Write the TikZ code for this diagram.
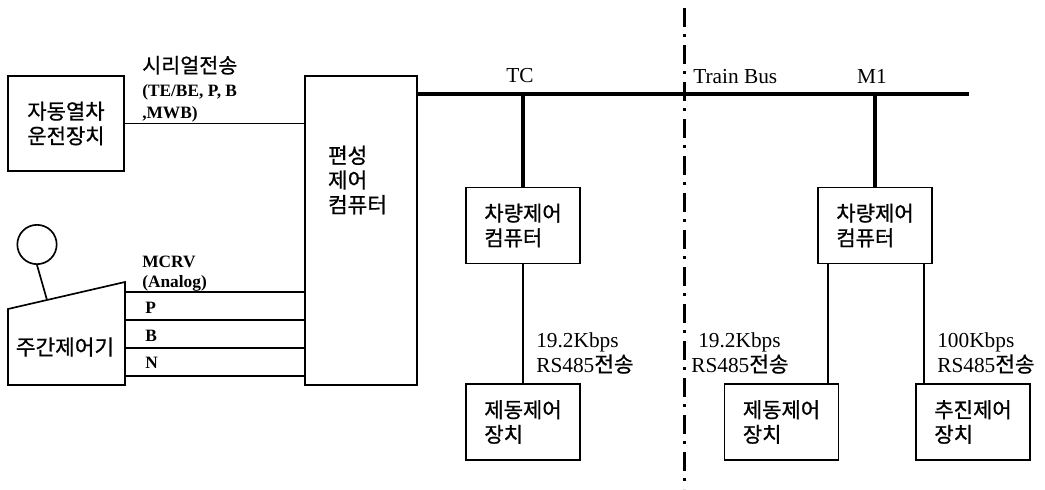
\documentclass[tikz,border=0pt]{standalone}
\usepackage{fontspec}
\setmainfont{Liberation Serif}
\newfontfamily\krfont[FakeBold=0.8]{Noto Sans CJK KR}
\begin{document}
\begin{tikzpicture}[x=0.75pt,y=-0.75pt,
  unitbox/.style={draw, line width=1.3pt, rectangle, inner sep=0pt, align=left,
    font=\krfont\fontsize{15.75}{18.5}\selectfont},
  smallbox/.style={unitbox, minimum width=85.5pt, minimum height=57pt},
  krtext/.style={inner sep=0pt, align=left, font=\krfont\fontsize{16}{18.5}\selectfont},
  lab/.style={inner sep=0pt, anchor=base west, font=\fontsize{16}{18}\selectfont},
  clab/.style={lab, anchor=base},
  blab/.style={inner sep=0pt, anchor=base west, font=\bfseries\fontsize{13}{15}\selectfont},
  thin/.style={line width=1.25pt},
  thick/.style={line width=3pt},
  divider/.style={line width=2.25pt, dash pattern=on 14.25pt off 5.25pt on 2.25pt off 6pt}]
\useasboundingbox (0,0) rectangle (1045,489);

% ---- left side: ATO unit, master controller and train control computer
\node[unitbox, minimum width=87pt, minimum height=71.25pt] (ato) at (66,123.5) {자동열차\\운전장치};
\node[unitbox, minimum width=84pt, minimum height=231.75pt] (tcms) at (361,230.5) {};
\node[krtext] (tcmstxt) at (357.5,180) {편성\\제어\\컴퓨터};

\draw[thin] (ato.east) -- (ato.east -| tcms.west);
\node[krtext, anchor=base west, font=\krfont\fontsize{15.5}{18}\selectfont] (serial) at (142,73) {시리얼전송};
\node[blab] (sig1) at (142,96) {(TE/BE, P, B};
\node[blab] (sig2) at (142,118) {,MWB)};

% master controller body, knob and handle
\coordinate (c1) at (8,385);
\coordinate (c2) at (8,309);
\coordinate (c3) at (125,282);
\coordinate (c4) at (125,385);
\draw[thin] (c1) -- (c2) -- (c3) -- (c4) -- cycle;
\node[draw, thin, circle, minimum size=29.5pt, inner sep=0pt] (knob) at (37,244.5) {};
\coordinate (handle) at (47,300);
\draw[thin] (knob.south) -- (handle);
\node[krtext] (mc) at (65,347) {주간제어기};

% controller lines
\foreach \yy/\nm in {292/la,320/lb,348/lc,376/ld}{
  \coordinate (\nm) at (125,\yy);
  \draw[thin] (\nm) -- (\nm -| tcms.west);
}
\node[blab] (mcrv) at (142,267) {MCRV};
\node[blab] (analog) at (142,287) {(Analog)};
\node[blab] (lp) at (145,313) {P};
\node[blab] (lbb) at (145,341) {B};
\node[blab] (ln) at (145,368) {N};

% ---- train bus
\coordinate (busL) at (417,94);
\coordinate (busR) at (969,94);
\draw[thick] (busL) -- (busR);
\node[clab] (tc) at (520,82) {TC};
\node[lab] (tbus) at (693,83) {Train Bus};
\node[clab] (m1) at (872,83) {M1};

% ---- TC car
\node[smallbox] (vcc1) at (523,225.5) {차량제어\\컴퓨터};
\node[smallbox] (bcu1) at (523,422) {제동제어\\장치};
\draw[thick] (vcc1.north) -- (vcc1.north |- busL);
\draw[thin] (vcc1.south) -- (bcu1.north);
\node[lab] (r1a) at (536,347) {19.2Kbps};
\node[lab] (r1b) at (536,372) {RS485{\krfont 전송}};

% ---- M1 car
\node[smallbox] (vcc2) at (875,225.5) {차량제어\\컴퓨터};
\node[smallbox] (bcu2) at (781.5,422) {제동제어\\장치};
\node[smallbox] (pcu) at (973,422) {추진제어\\장치};
\draw[thick] (vcc2.north) -- (vcc2.north |- busL);
\coordinate (m1a) at (828,263);
\coordinate (m1b) at (924,263);
\draw[thin] (m1a) -- (m1a |- bcu2.north);
\draw[thin] (m1b) -- (m1b |- pcu.north);
\node[lab] (r2a) at (698,347) {19.2Kbps};
\node[lab] (r2b) at (691,372) {RS485{\krfont 전송}};
\node[lab] (r3a) at (937,347) {100Kbps};
\node[lab] (r3b) at (937,372) {RS485{\krfont 전송}};

% ---- car boundary
\coordinate (divT) at (684,8);
\coordinate (divB) at (684,489);
\draw[divider] (divT) -- (divB);
\end{tikzpicture}
\end{document}
